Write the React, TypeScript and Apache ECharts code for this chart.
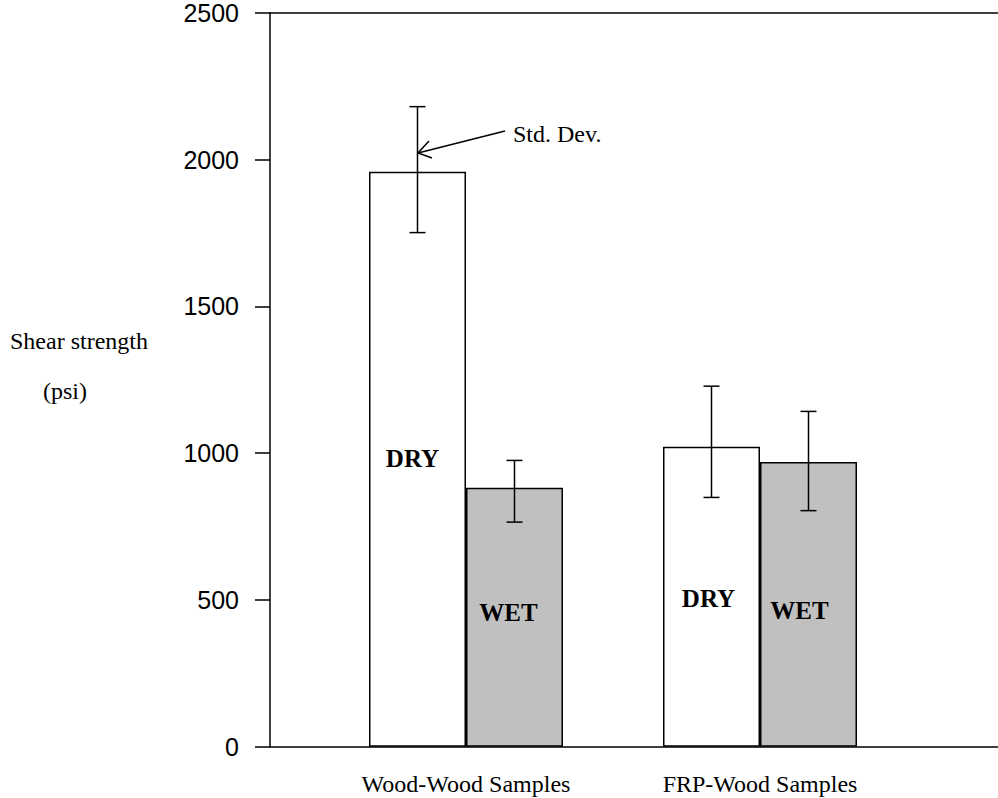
import React, { useEffect, useRef } from "react";
import * as echarts from "echarts";

const categories = ["Wood-Wood Samples", "FRP-Wood Samples"];
const dryValues = [1958, 1022];
const wetValues = [882, 970];
const dryStdLow = [1751, 849];
const dryStdHigh = [2180, 1228];
const wetStdLow = [765, 804];
const wetStdHigh = [975, 1142];
const yMin = 0;
const yMax = 2500;
const yInterval = 500;

const SERIF = '"Liberation Serif", "Times New Roman", serif';
const SANS = '"Liberation Sans", Arial, sans-serif';
const BAR_W = 97;
const CAP = 8;

// per-bar label placement (distance from bar bottom, horizontal offset)
const dryLabelPlace = [
  { distance: 276, dx: -5 },
  { distance: 136, dx: -3 },
];
const wetLabelPlace = [
  { distance: 122, dx: -6 },
  { distance: 124, dx: -9 },
];

export default function App() {
  const ref = useRef<HTMLDivElement>(null);
  useEffect(() => {
    const chart = echarts.init(ref.current!, null, { renderer: "svg" });
    const lineStyle = { color: "#000", width: 1.5 };
    const labelStyle = {
      show: true,
      position: "insideBottom",
      fontFamily: SERIF,
      fontSize: 25,
      fontWeight: "bold",
      color: "#000",
    };
    const errData: number[][] = [];
    categories.forEach((_, i) => errData.push([i, dryStdLow[i], dryStdHigh[i], -1]));
    categories.forEach((_, i) => errData.push([i, wetStdLow[i], wetStdHigh[i], 1]));

    const option: any = {
      animation: false,
      backgroundColor: "#fff",
      grid: [
        { left: 270, right: 0, top: 12.7, bottom: 51.3, outerBoundsMode: "none", containLabel: false },
        { left: 319, width: 588, top: 12.7, bottom: 51.3, outerBoundsMode: "none", containLabel: false },
      ],
      xAxis: [
        {
          gridIndex: 0, type: "value", min: 0, max: 1, position: "bottom",
          axisLine: { show: true, onZero: false, lineStyle },
          axisTick: { show: false }, axisLabel: { show: false }, splitLine: { show: false },
        },
        {
          gridIndex: 0, type: "value", min: 0, max: 1, position: "top",
          axisLine: { show: true, onZero: false, lineStyle },
          axisTick: { show: false }, axisLabel: { show: false }, splitLine: { show: false },
        },
        {
          gridIndex: 1, type: "category", data: categories,
          axisLine: { show: false }, axisTick: { show: false },
          axisLabel: { margin: 25, fontFamily: SERIF, fontSize: 24, color: "#000" },
          splitLine: { show: false },
        },
      ],
      yAxis: [
        {
          gridIndex: 0, type: "value", min: yMin, max: yMax, interval: yInterval,
          axisLine: { show: true, onZero: false, lineStyle },
          axisTick: { show: true, inside: false, length: 15, lineStyle },
          axisLabel: {
            margin: 31, fontFamily: SANS, fontSize: 25, color: "#000", padding: [10, 0, 0, 0],
            formatter: (v: number) => String(v),
          },
          splitLine: { show: false },
        },
        { gridIndex: 1, type: "value", min: yMin, max: yMax, show: false, splitLine: { show: false } },
      ],
      series: [
        {
          name: "DRY", type: "bar", xAxisIndex: 2, yAxisIndex: 1,
          barWidth: BAR_W, barGap: "0%",
          itemStyle: { color: "#fff", borderColor: "#000", borderWidth: 1.5 },
          data: dryValues.map((v, i) => ({
            value: v,
            label: { ...labelStyle, formatter: "DRY", distance: dryLabelPlace[i].distance, offset: [dryLabelPlace[i].dx, 0] },
          })),
        },
        {
          name: "WET", type: "bar", xAxisIndex: 2, yAxisIndex: 1,
          barWidth: BAR_W, barGap: "0%",
          itemStyle: { color: "#c0c0c0", borderColor: "#000", borderWidth: 1.5 },
          data: wetValues.map((v, i) => ({
            value: v,
            label: { ...labelStyle, formatter: "WET", distance: wetLabelPlace[i].distance, offset: [wetLabelPlace[i].dx, 0] },
          })),
        },
        {
          name: "Std. Dev.", type: "custom", xAxisIndex: 2, yAxisIndex: 1, z: 10,
          encode: { x: 0, y: [1, 2] },
          data: errData,
          renderItem: (params: any, api: any) => {
            const ci = api.value(0);
            const lo = api.coord([ci, api.value(1)]);
            const hi = api.coord([ci, api.value(2)]);
            const x = lo[0] + api.value(3) * BAR_W / 2;
            const st = { stroke: "#000", lineWidth: 1.5 };
            return {
              type: "group",
              children: [
                { type: "line", shape: { x1: x, y1: hi[1], x2: x, y2: lo[1] }, style: st },
                { type: "line", shape: { x1: x - CAP, y1: hi[1], x2: x + CAP, y2: hi[1] }, style: st },
                { type: "line", shape: { x1: x - CAP, y1: lo[1], x2: x + CAP, y2: lo[1] }, style: st },
              ],
            };
          },
        },
      ],
      graphic: [
        { type: "text", x: 10, y: 341, style: { text: "Shear strength", fontFamily: SERIF, fontSize: 24, fill: "#000", align: "left", verticalAlign: "middle" } },
        { type: "text", x: 65, y: 391, style: { text: "(psi)", fontFamily: SERIF, fontSize: 24, fill: "#000", align: "center", verticalAlign: "middle" } },
        { type: "text", x: 513, y: 134, style: { text: "Std. Dev.", fontFamily: SERIF, fontSize: 24, fill: "#000", align: "left", verticalAlign: "middle" } },
        { type: "line", shape: { x1: 505, y1: 131, x2: 418, y2: 153 }, style: { stroke: "#000", lineWidth: 1.5 } },
        { type: "polyline", shape: { points: [[429, 141], [418, 153], [432, 158]] }, style: { stroke: "#000", lineWidth: 1.5, fill: null } },
      ],
    };
    chart.setOption(option);
    return () => chart.dispose();
  }, []);
  return <div ref={ref} style={{ position: "fixed", left: 0, top: 0, width: 998, height: 798 }} />;
}
